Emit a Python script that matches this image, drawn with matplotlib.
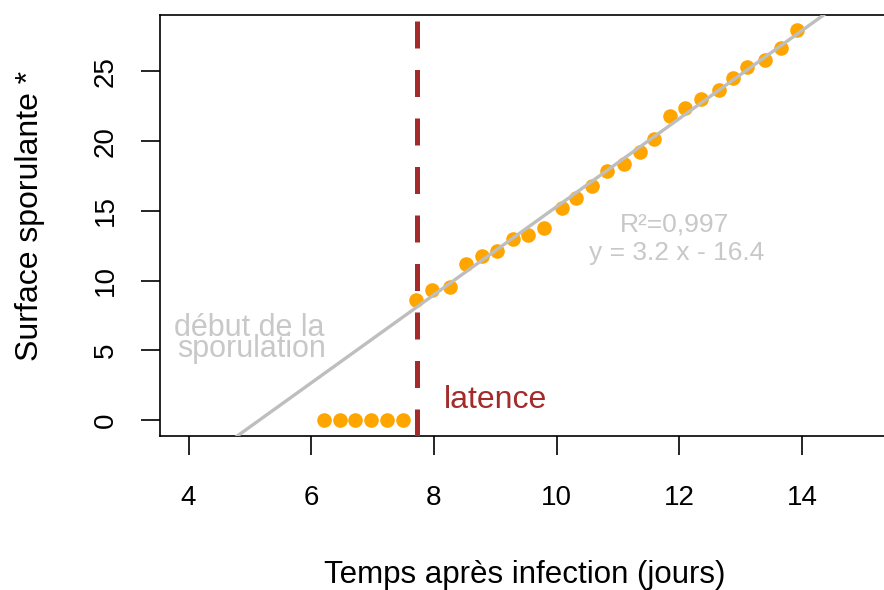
import matplotlib
matplotlib.use("Agg")
import matplotlib.pyplot as plt

# ====== DATA ======
temps = [6.21, 6.47, 6.71, 6.97, 7.24, 7.49,
         7.71, 7.97, 8.26, 8.52, 8.78, 9.03, 9.29, 9.54, 9.80,
         10.08, 10.31, 10.57, 10.82, 11.10, 11.36, 11.59, 11.84,
         12.09, 12.36, 12.64, 12.87, 13.11, 13.39, 13.66, 13.91]
surface = [0, 0, 0, 0, 0, 0,
           8.6, 9.3, 9.55, 11.2, 11.75, 12.15, 13.0, 13.25, 13.75,
           15.2, 15.9, 16.8, 17.85, 18.35, 19.25, 20.15, 21.8,
           22.4, 23.05, 23.65, 24.55, 25.3, 25.85, 26.65, 27.95]

pente = 3.16
ordonnee = -16.3
latence = 7.72

x_ticks = [4, 6, 8, 10, 12, 14]
y_ticks = [0, 5, 10, 15, 20, 25]

FONT = "Liberation Sans"
GRIS = "#c8c8c8"
BRUN = "#a52a2a"


def main():
    plt.rcParams["font.family"] = [FONT, "DejaVu Sans"]

    fig = plt.figure(figsize=(8.84, 5.9), dpi=100)
    # plot region: left 160px, right ~890px (cut off), top 15px, bottom 436px
    ax = fig.add_axes([160.3 / 884, 154 / 590, 729.7 / 884, 421 / 590])

    ax.plot(temps, surface, "o", color="orange", ms=10.5, mew=0, zorder=2)
    ax.axline((0, ordonnee), slope=pente, color="#bebebe", lw=2.4, zorder=3)
    ax.axvline(latence, color=BRUN, lw=3.6, ls=(0, (5.4, 4.3)),
               solid_capstyle="butt", dash_capstyle="butt", zorder=4)

    ax.text(11.93, 13.5, "R²=0,997", color=GRIS, fontsize=19, ha="center", va="baseline")
    ax.text(11.96, 11.48, "y = 3.2 x - 16.4", color=GRIS, fontsize=19, ha="center", va="baseline")
    ax.text(4.99, 6.03, "début de la", color=GRIS, fontsize=22, ha="center", va="baseline")
    ax.text(5.02, 4.54, "sporulation", color=GRIS, fontsize=22, ha="center", va="baseline")
    ax.text(9.0, 0.84, "latence", color=BRUN, fontsize=23, ha="center", va="baseline")

    ax.set_xlim(3.54, 15.434)
    ax.set_ylim(-1.15, 29.05)
    ax.set_xticks(x_ticks)
    ax.set_yticks(y_ticks)
    ax.tick_params(axis="both", length=14, width=1.2, labelsize=20, color="black")
    ax.tick_params(axis="x", pad=21)
    ax.tick_params(axis="y", pad=16, labelrotation=90)
    for lab in ax.get_yticklabels():
        lab.set_va("center")
    for sp in ax.spines.values():
        sp.set_linewidth(1.2)

    fig.text(525 / 884, 1 - 583 / 590, "Temps après infection (jours)",
             fontsize=22.5, ha="center", va="baseline")
    fig.text(30 / 884, 1 - 216 / 590, "Surface sporulante *",
             fontsize=23, rotation=90, ha="center", va="center")

    fig.savefig("out.png", dpi=100)
    plt.close(fig)


if __name__ == "__main__":
    main()
